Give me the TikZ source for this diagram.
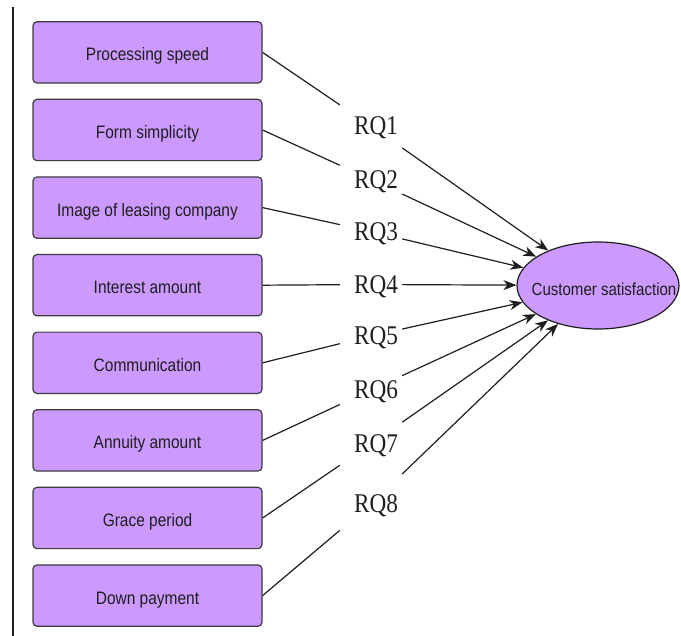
\documentclass[tikz,border=0pt]{standalone}
\usepackage{fontspec}
\usetikzlibrary{shapes.geometric,arrows.meta}
\newfontfamily\boxfont{Liberation Sans}[FakeStretch=0.86]
\newfontfamily\rqfont{Liberation Serif}[FakeStretch=0.86]
\definecolor{lilac}{RGB}{204,153,255}
\definecolor{edge}{RGB}{60,60,60}
\definecolor{ink}{RGB}{30,30,30}
\tikzset{
  factor/.style={draw=edge, line width=1.2pt, fill=lilac, rounded corners=4pt,
    minimum width=229pt, minimum height=61.3pt, inner sep=0pt,
    font=\boxfont\fontsize{18pt}{20pt}\selectfont, text=ink,
    text height=17pt, text depth=0pt},
  outcome/.style={ellipse, draw=ink, line width=1.2pt, fill=lilac,
    minimum width=162pt, minimum height=87pt, inner sep=0pt,
    font=\boxfont\fontsize{17.5pt}{20pt}\selectfont, text=ink,
    text height=20.5pt, text depth=0pt},
  rq/.style={inner sep=0pt, minimum width=62pt, minimum height=46pt,
    font=\rqfont\fontsize{27pt}{30pt}\selectfont, text=ink,
    text height=18pt, text depth=0pt},
  link/.style={draw=ink, line width=1.2pt},
  path/.style={link, -{Stealth[length=13pt, width=10pt, inset=4pt]}},
}
\begin{document}
\begin{tikzpicture}[x=1pt, y=-1pt]
  \useasboundingbox (0,0) rectangle (681,636);

  % left rule
  \coordinate (ruletop) at (13,7);
  \coordinate (rulebot) at (13,636);
  \draw[draw=ink, line width=1.3pt] (ruletop) -- (rulebot);

  % factors
  \node[factor] (f1) at (147.5, 52.4) {Processing speed};
  \node[factor] (f2) at (147.5,130.0) {Form simplicity};
  \node[factor] (f3) at (147.5,207.6) {Image of leasing company};
  \node[factor] (f4) at (147.5,285.2) {Interest amount};
  \node[factor] (f5) at (147.5,362.8) {Communication};
  \node[factor] (f6) at (147.5,440.4) {Annuity amount};
  \node[factor] (f7) at (147.5,518.0) {Grace period};
  \node[factor] (f8) at (147.5,595.6) {Down payment};

  % outcome (label kept out of the size calculation)
  \node[outcome] (cs) at (598,285.5) {\makebox[0pt]{\hspace*{12pt}Customer satisfaction}};

  % research question labels
  \node[rq] (q1) at (371,126.0) {\hspace*{10pt}RQ1};
  \node[rq] (q2) at (371,179.5) {\hspace*{10pt}RQ2};
  \node[rq] (q3) at (371,231.5) {\hspace*{10pt}RQ3};
  \node[rq] (q4) at (371,284.5) {\hspace*{10pt}RQ4};
  \node[rq] (q5) at (371,336.0) {\hspace*{10pt}RQ5};
  \node[rq] (q6) at (371,390.0) {\hspace*{10pt}RQ6};
  \node[rq] (q7) at (371,444.0) {\hspace*{10pt}RQ7};
  \node[rq, minimum height=64pt] (q8) at (371,504.0) {\hspace*{10pt}RQ8};

  % connectors
  \foreach \i in {1,...,8} {
    \draw[link] (f\i.east) -- (q\i);
    \draw[path] (q\i) -- (cs);
  }
\end{tikzpicture}
\end{document}
